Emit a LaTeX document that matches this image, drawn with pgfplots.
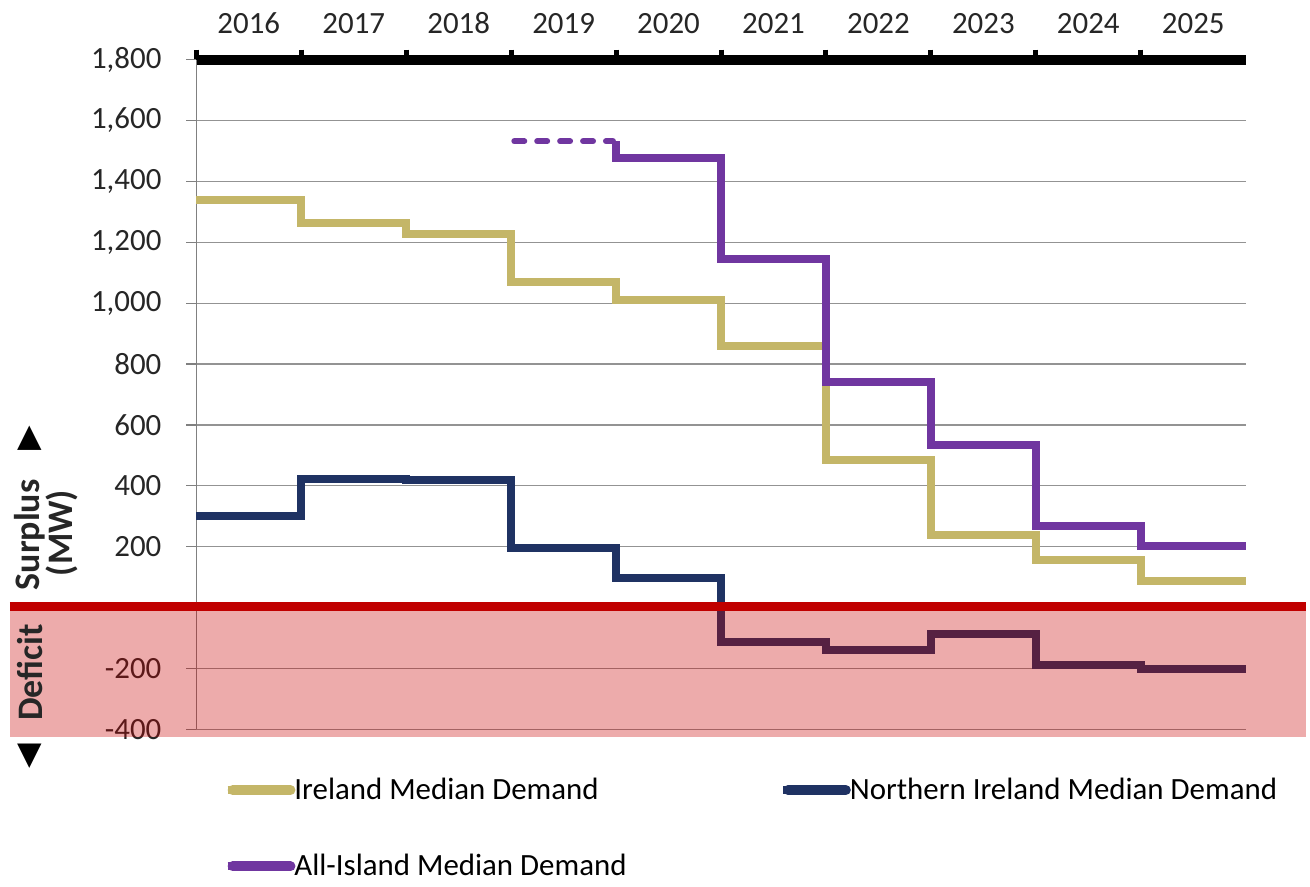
\documentclass[border=0pt]{standalone}
\usepackage{fontspec}
\setmainfont{Carlito}
\newfontfamily\sym{DejaVu Sans}
\usepackage{pgfplots}
\pgfplotsset{compat=1.18}
\definecolor{irl}{RGB}{196,182,104}
\definecolor{nirl}{RGB}{31,50,99}
\definecolor{allisl}{RGB}{112,54,160}
\definecolor{zeroline}{RGB}{192,0,0}
\definecolor{deficit}{RGB}{200,0,0}
\newcommand{\lbl}{\fontsize{15.5}{18}\selectfont}
\begin{document}
\begin{tikzpicture}
\begin{axis}[
  scale only axis, width=526.5pt, height=336pt,
  xmin=0, xmax=10, ymin=-400, ymax=1800,
  clip=false,
  axis x line*=top, axis y line*=left,
  x axis line style={black, line width=5pt, -},
  y axis line style={gray, line width=0.6pt, -},
  major tick length=5pt,
  xtick={0,...,9}, xticklabels={},
  xtick align=outside,
  x tick style={black, line width=2.5pt},
  extra x ticks={0.5,1.5,...,9.5},
  extra x tick labels={2016,2017,2018,2019,2020,2021,2022,2023,2024,2025},
  extra x tick style={major tick length=0pt, x tick style={draw=none},
    xticklabel style={yshift=9.5pt}},
  ytick={-400,-200,...,1800},
  yticklabels={-400,-200,{},200,400,600,800,{1,000},{1,200},{1,400},{1,600},{1,800}},
  ytick align=outside,
  y tick style={gray, line width=0.6pt},
  ymajorgrids, y grid style={gray!85, line width=0.6pt},
  tick label style={font=\lbl, text=black!85},
  yticklabel style={xshift=-9pt},
  legend cell align=left,
  legend columns=2,
  legend image code/.code={\path (0pt,0pt) -- (30pt,0pt);
    \draw[#1, line cap=round, solid, line width=5pt, overlay] (2.5pt,0pt) -- (31.5pt,0pt);},
  legend style={at={(0.0200,-0.06)}, anchor=north west, draw=none, fill=none,
    font=\lbl, row sep=22pt, nodes={inner xsep=1.5pt},
    /tikz/every even column/.append style={column sep=75pt}},
]
\addplot[irl, line width=4pt, const plot] coordinates {
  (0,1338) (1,1264) (2,1226) (3,1068) (4,1010) (5,860) (6,485) (7,238) (8,157) (9,88) (10,88)};
\addlegendentry{Ireland Median Demand}
\addplot[nirl, line width=4pt, const plot] coordinates {
  (0,301) (1,423) (2,418) (3,197) (4,97) (5,-113) (6,-140) (7,-88) (8,-189) (9,-202) (10,-202)};
\addlegendentry{Northern Ireland Median Demand}
\addplot[allisl, line width=4pt, const plot] coordinates {
  (4,1532) (4,1476) (5,1145) (6,742) (7,533) (8,267) (9,202) (10,202)};
\addlegendentry{All-Island Median Demand}
\addplot[allisl, line width=3pt, line cap=round, dash pattern=on 5pt off 6.5pt, forget plot]
  coordinates {(3.03,1532) (3.97,1532)};
% deficit band and zero line
\fill[deficit, fill opacity=0.33] (axis cs:-1.776,-12) rectangle (axis cs:10.57,-426);
\draw[zeroline, line width=4.5pt] (axis cs:-1.776,2) -- (axis cs:10.57,2);
% side labels
\node[rotate=90, font=\fontsize{18}{21}\selectfont\bfseries, text=black!85] at (axis cs:-1.586,239) {Surplus};
\node[font=\sym\fontsize{16}{18}\selectfont] at (axis cs:-1.586,556) {▲};
\node[rotate=90, font=\fontsize{18}{21}\selectfont\bfseries, text=black!85] at (axis cs:-1.282,245) {(MW)};
\node[rotate=90, font=\fontsize{18}{21}\selectfont\bfseries, text=black!85] at (axis cs:-1.586,-213) {Deficit};
\node[font=\sym\fontsize{16}{18}\selectfont] at (axis cs:-1.586,-488) {▼};
\path (axis cs:-1.871,1996) rectangle (axis cs:10.57,-881);
\end{axis}
\end{tikzpicture}
\end{document}
